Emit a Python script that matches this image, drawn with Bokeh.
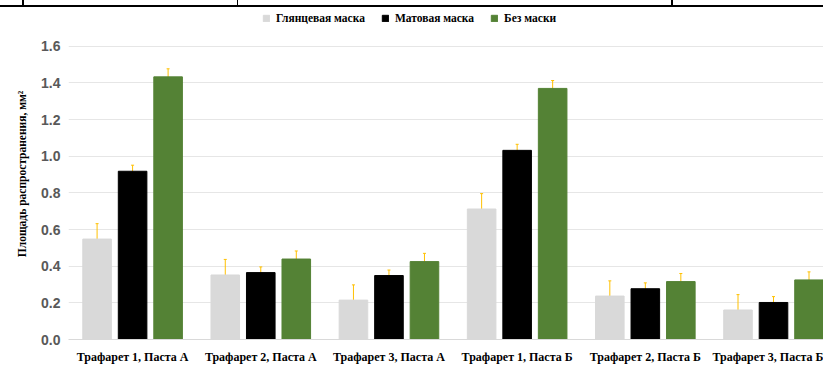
from bokeh.plotting import figure
from bokeh.layouts import column
from bokeh.models import (Range1d, ColumnDataSource, Whisker, TeeHead, Legend,
                          LegendItem, FixedTicker, NumeralTickFormatter, Div)
from bokeh.embed import file_html
from bokeh.resources import INLINE

groups = ["Трафарет 1, Паста А", "Трафарет 2, Паста А", "Трафарет 3, Паста А",
          "Трафарет 1, Паста Б", "Трафарет 2, Паста Б", "Трафарет 3, Паста Б"]
series = ["Глянцевая маска", "Матовая маска", "Без маски"]
glossy = [0.548, 0.352, 0.215, 0.712, 0.237, 0.161]
glossy_err = [0.084, 0.085, 0.083, 0.084, 0.083, 0.084]
matte = [0.918, 0.365, 0.349, 1.032, 0.277, 0.202]
matte_err = [0.033, 0.031, 0.030, 0.033, 0.032, 0.032]
nomask = [1.433, 0.439, 0.425, 1.370, 0.316, 0.325]
nomask_err = [0.044, 0.044, 0.045, 0.043, 0.044, 0.044]
colors = ["#d9d9d9", "#000000", "#548235"]
y_ticks = [0.0, 0.2, 0.4, 0.6, 0.8, 1.0, 1.2, 1.4, 1.6]

values = [glossy, matte, nomask]
errors = [glossy_err, matte_err, nomask_err]
centers = [i + 0.5 for i in range(len(groups))]
offset = 0.277
bar_w = 0.223

# scanned page (table) border above the chart, drawn as CSS backgrounds
top = Div(text="", width=823, height=8, margin=(0, 0, 0, 0),
          styles={"background": (
              "linear-gradient(#000,#000) 0px 5px / 823px 2px no-repeat, "
              "linear-gradient(#000,#000) 22px 0px / 2px 5px no-repeat, "
              "linear-gradient(#000,#000) 237px 0px / 1px 5px no-repeat, "
              "linear-gradient(#000,#000) 671px 0px / 2px 5px no-repeat, #fff")})

p = figure(width=823, height=358, x_range=Range1d(0, 5.89), y_range=Range1d(0, 1.806),
           output_backend="svg", toolbar_location=None,
           min_border_left=68, min_border_right=0, min_border_top=0, min_border_bottom=25)
p.outline_line_color = None

items = []
for j, (vals, errs, col, name) in enumerate(zip(values, errors, colors, series)):
    xs = [c + (j - 1) * offset for c in centers]
    src = ColumnDataSource(dict(x=xs, top=vals,
                                upper=[v + e for v, e in zip(vals, errs)],
                                lower=[v - e for v, e in zip(vals, errs)]))
    r = p.vbar(x="x", top="top", bottom=0, width=bar_w, source=src,
               fill_color=col, line_color=col)
    w = Whisker(base="x", upper="upper", lower="lower", source=src,
                line_color="#ffc000", line_width=1,
                upper_head=TeeHead(size=3, line_color="#ffc000", line_width=1),
                lower_head=TeeHead(size=3, line_color="#ffc000", line_width=1))
    p.add_layout(w)
    items.append(LegendItem(label=name, renderers=[r]))

legend = Legend(items=items, orientation="horizontal", location=(194, 315),
                label_text_font="Liberation Serif", label_text_font_style="bold",
                label_text_font_size="11.5px", label_text_color="#000000",
                glyph_width=8, glyph_height=8, label_standoff=6, spacing=16,
                padding=0, margin=0, border_line_color=None,
                background_fill_alpha=0, label_height=12)
p.add_layout(legend)

p.xgrid.visible = False
p.ygrid.grid_line_color = "#e6e6e6"
p.ygrid.grid_line_width = 1

xa = p.xaxis[0]
xa.ticker = FixedTicker(ticks=centers)
xa.major_label_overrides = {c: g for c, g in zip(centers, groups)}
xa.major_label_text_font = "Liberation Serif"
xa.major_label_text_font_style = "bold"
xa.major_label_text_font_size = "12px"
xa.major_label_text_color = "#000000"
xa.major_label_standoff = 10
xa.major_tick_out = 0
xa.major_tick_in = 0
xa.axis_line_color = "#d9d9d9"
xa.major_tick_line_color = None
xa.minor_tick_line_color = None

ya = p.yaxis[0]
ya.ticker = FixedTicker(ticks=y_ticks)
ya.formatter = NumeralTickFormatter(format="0.0")
ya.major_label_text_font = "Liberation Sans"
ya.major_label_text_font_style = "bold"
ya.major_label_text_font_size = "14px"
ya.major_label_text_color = "#595959"
ya.major_label_standoff = 8
ya.major_tick_out = 0
ya.major_tick_in = 0
ya.axis_line_color = None
ya.major_tick_line_color = None
ya.minor_tick_line_color = None
ya.axis_label = "Площадь распространения, мм²"
ya.axis_label_text_font = "Liberation Serif"
ya.axis_label_text_font_style = "bold"
ya.axis_label_text_font_size = "11.5px"
ya.axis_label_text_color = "#000000"
ya.axis_label_standoff = 10

layout = column(top, p, spacing=0)
open("out.html", "w").write(file_html(layout, INLINE))
